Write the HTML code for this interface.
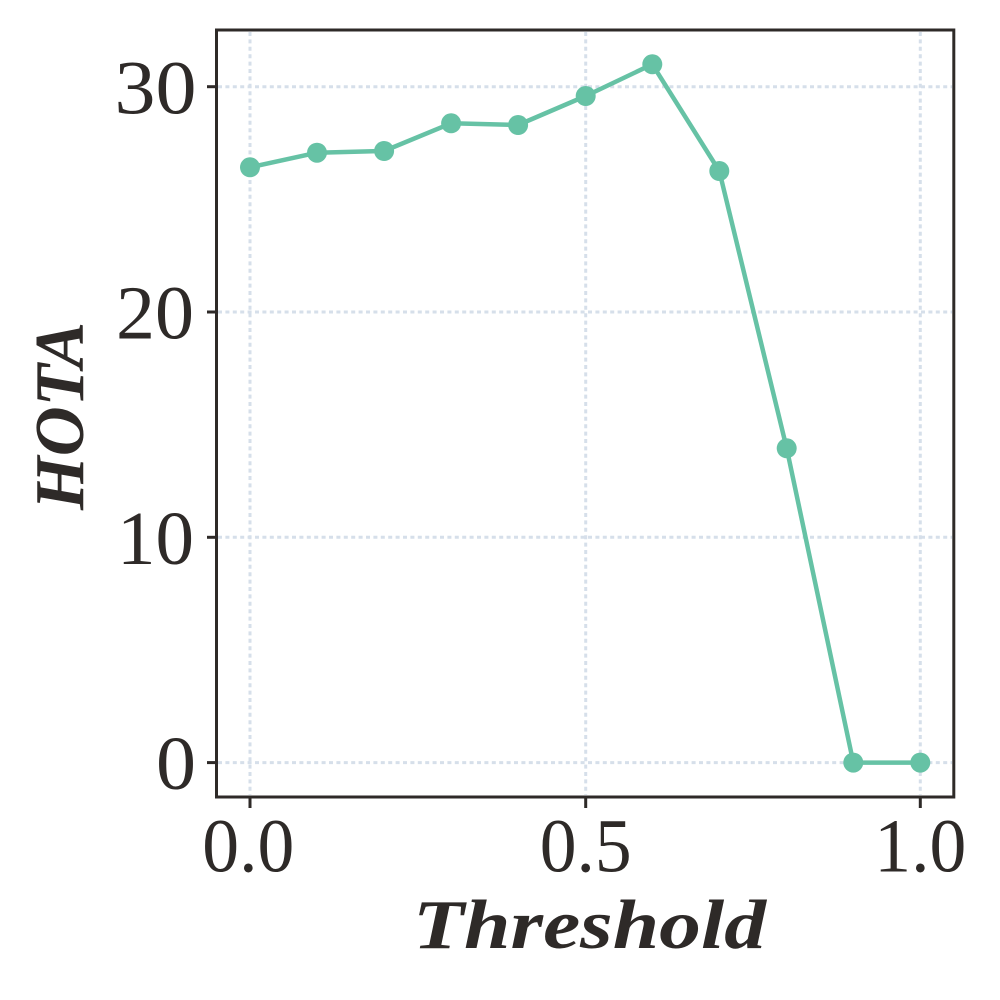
<!DOCTYPE html>
<html>
<head>
<meta charset="utf-8">
<style>
html,body{margin:0;padding:0;background:#fff;}
svg{display:block;}
text{font-family:"Liberation Serif","DejaVu Serif",serif;fill:#2e2a28;}
</style>
</head>
<body>
<svg width="1000" height="1000" viewBox="0 0 1000 1000" xmlns="http://www.w3.org/2000/svg">
<rect x="0" y="0" width="1000" height="1000" fill="#fff"/>
<!-- grid -->
<g stroke="#d6dfea" stroke-width="3" stroke-dasharray="4 3.4" fill="none">
<line x1="218" y1="86.7" x2="952" y2="86.7"/>
<line x1="218" y1="312" x2="952" y2="312"/>
<line x1="218" y1="537.3" x2="952" y2="537.3"/>
<line x1="218" y1="762.6" x2="952" y2="762.6"/>
<line x1="250" y1="32" x2="250" y2="795"/>
<line x1="585.7" y1="32" x2="585.7" y2="795"/>
<line x1="920.3" y1="32" x2="920.3" y2="795"/>
</g>
<!-- series -->
<polyline fill="none" stroke="#66c2a5" stroke-width="4.5" stroke-linejoin="round"
points="250,167.3 317,152.7 384.1,151 451.1,123.3 518.1,125 585.7,96 652.3,64.3 719.3,171 786.7,448.3 853.3,762.6 920.3,762.6"/>
<g fill="#66c2a5">
<circle cx="250" cy="167.3" r="10"/>
<circle cx="317" cy="152.7" r="10"/>
<circle cx="384.1" cy="151" r="10"/>
<circle cx="451.1" cy="123.3" r="10"/>
<circle cx="518.1" cy="125" r="10"/>
<circle cx="585.7" cy="96" r="10"/>
<circle cx="652.3" cy="64.3" r="10"/>
<circle cx="719.3" cy="171" r="10"/>
<circle cx="786.7" cy="448.3" r="10"/>
<circle cx="853.3" cy="762.6" r="10"/>
<circle cx="920.3" cy="762.6" r="10"/>
</g>
<!-- spines -->
<rect x="216.5" y="30" width="737.3" height="767" fill="none" stroke="#2e2a28" stroke-width="3"/>
<!-- ticks -->
<g stroke="#2e2a28" stroke-width="3">
<line x1="207" y1="86.7" x2="216" y2="86.7"/>
<line x1="207" y1="312" x2="216" y2="312"/>
<line x1="207" y1="537.3" x2="216" y2="537.3"/>
<line x1="207" y1="762.6" x2="216" y2="762.6"/>
<line x1="250" y1="797" x2="250" y2="808"/>
<line x1="585.7" y1="797" x2="585.7" y2="808"/>
<line x1="920.3" y1="797" x2="920.3" y2="808"/>
</g>
<!-- tick labels -->
<g font-size="76">
<text x="196.5" y="113.3" text-anchor="end" textLength="82" lengthAdjust="spacingAndGlyphs">30</text>
<text x="194" y="338.5" text-anchor="end" textLength="78" lengthAdjust="spacingAndGlyphs">20</text>
<text x="194" y="563.8" text-anchor="end" textLength="77" lengthAdjust="spacingAndGlyphs">10</text>
<text x="196" y="789" text-anchor="end" textLength="40" lengthAdjust="spacingAndGlyphs">0</text>
<text x="202.3" y="871.7" textLength="92" lengthAdjust="spacingAndGlyphs">0.0</text>
<text x="539.7" y="871.7" textLength="92" lengthAdjust="spacingAndGlyphs">0.5</text>
<text x="874.3" y="871.7" textLength="92" lengthAdjust="spacingAndGlyphs">1.0</text>
</g>
<!-- axis labels -->
<text x="413" y="948" font-size="70" font-weight="bold" font-style="italic" textLength="353" lengthAdjust="spacingAndGlyphs">Threshold</text>
<text transform="translate(83,510) rotate(-90)" x="0" y="0" font-size="70" font-weight="bold" font-style="italic" textLength="188" lengthAdjust="spacingAndGlyphs">HOTA</text>
</svg>
</body>
</html>
